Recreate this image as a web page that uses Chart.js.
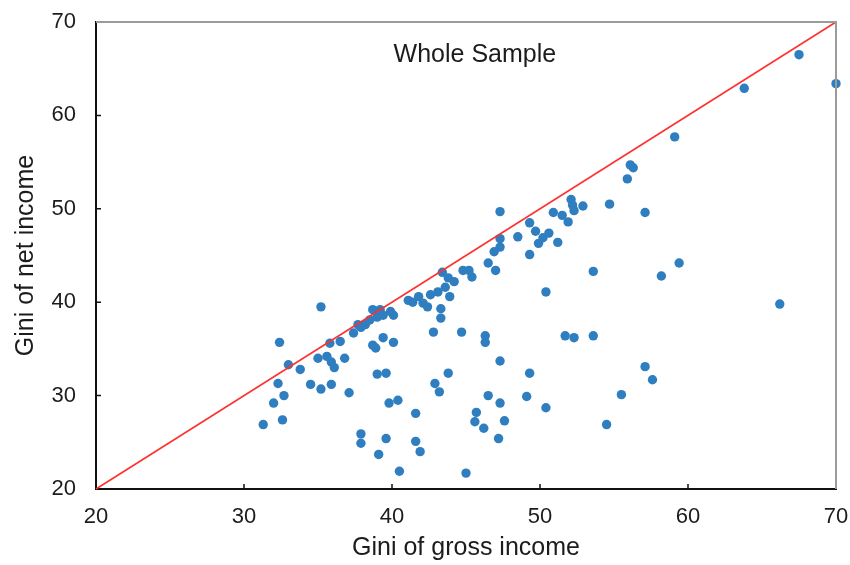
<!DOCTYPE html>
<html>
<head>
<meta charset="utf-8">
<script src="https://cdn.jsdelivr.net/npm/chart.js@4.4.0/dist/chart.umd.min.js"></script>
<style>
  html, body { margin: 0; padding: 0; background: #fff; }
</style>
</head>
<body>
<canvas id="giniChart" width="850" height="565"></canvas>
<script>
// Gini of gross income (x) and Gini of net income (y), one entry per country-year
const grossGini = [
  31.3, 32.6, 32.0, 32.7, 32.3, 32.4, 33.0, 33.8, 34.5, 35.2,
  35.9, 35.0, 35.6, 35.9, 36.1, 36.8, 36.5, 35.8, 37.1, 35.2,
  37.9, 37.9, 39.1, 39.6, 40.5, 41.6, 41.9, 41.6, 39.8, 40.4,
  39.0, 39.6, 38.7, 38.9, 39.4, 40.1, 37.4, 37.7, 37.9, 38.2,
  38.5, 39.0, 39.4, 39.9, 38.7, 39.2, 40.1, 41.1, 41.4, 41.8,
  42.1, 42.4, 42.6, 43.1, 43.6, 43.9, 43.3, 43.3, 42.8, 42.9,
  43.2, 43.8, 43.4, 43.8, 44.2, 44.8, 45.2, 45.4, 44.7, 46.3,
  46.3, 47.3, 45.0, 45.7, 45.6, 46.2, 47.6, 47.2, 46.5, 47.3,
  49.1, 50.4, 49.3, 46.5, 47.0, 46.9, 47.3, 47.3, 47.3, 48.5,
  49.3, 49.7, 49.9, 50.2, 50.6, 51.2, 49.3, 50.4, 50.9, 51.5,
  51.9, 52.1, 52.2, 52.3, 52.9, 51.7, 52.3, 53.6, 53.6, 54.5,
  55.5, 54.7, 55.9, 56.1, 56.3, 57.1, 57.1, 57.6, 58.2, 59.4,
  59.1, 63.8, 66.2, 67.5, 70.0
];
const netGini = [
  26.9, 27.4, 29.2, 30.0, 31.3, 35.7, 33.3, 32.8, 31.2, 30.7,
  31.2, 34.0, 34.2, 33.6, 33.0, 34.0, 35.8, 35.6, 30.3, 39.5,
  25.9, 24.9, 23.7, 25.4, 21.9, 25.1, 24.0, 28.1, 29.2, 29.5,
  32.3, 32.4, 35.4, 35.1, 36.2, 35.7, 36.7, 37.6, 37.3, 37.6,
  38.1, 38.4, 38.6, 39.0, 39.2, 39.2, 38.6, 40.2, 40.0, 40.6,
  39.9, 39.5, 40.8, 41.1, 41.6, 40.6, 39.3, 38.3, 36.8, 31.3,
  30.4, 32.4, 43.2, 42.6, 42.2, 43.4, 43.4, 42.7, 36.8, 36.4,
  35.7, 33.7, 21.7, 28.2, 27.2, 26.5, 27.3, 25.4, 30.0, 29.2,
  29.9, 28.7, 32.4, 44.2, 43.4, 45.4, 45.9, 46.8, 49.7, 47.0,
  48.5, 47.6, 46.3, 46.9, 47.4, 46.4, 45.1, 41.1, 49.6, 49.3,
  48.6, 51.0, 50.4, 49.8, 50.3, 36.4, 36.2, 36.4, 43.3, 26.9,
  30.1, 50.5, 53.2, 54.7, 54.4, 49.6, 33.1, 31.7, 42.8, 44.2,
  57.7, 62.9, 39.8, 66.5, 63.4
];
// 45-degree line (net = gross)
const equalityLine = [20, 70];
const tickValues = [20, 30, 40, 50, 60, 70];

const textColor = '#1c1c1c';
const fontFamily = '"Liberation Sans", Arial, sans-serif';

// frame (grey top/right), inward tick marks and the panel label
const frameAndTicks = {
    id: 'frameAndTicks',
    afterDatasetsDraw(chart) {
        const { ctx, chartArea: a, scales: { x, y } } = chart;
        ctx.save();
        ctx.strokeStyle = '#9b9b9b';
        ctx.lineWidth = 2;
        ctx.beginPath();
        ctx.moveTo(a.left, a.top);
        ctx.lineTo(a.right, a.top);
        ctx.lineTo(a.right, a.bottom);
        ctx.stroke();

        ctx.strokeStyle = '#111';
        ctx.lineWidth = 1.5;
        ctx.beginPath();
        tickValues.slice(1, -1).forEach(v => {
            const px = x.getPixelForValue(v);
            ctx.moveTo(px, a.bottom);
            ctx.lineTo(px, a.bottom - 5);
            const py = y.getPixelForValue(v);
            ctx.moveTo(a.left, py);
            ctx.lineTo(a.left + 5, py);
        });
        ctx.stroke();

        ctx.fillStyle = textColor;
        ctx.font = '25px ' + fontFamily;
        ctx.textAlign = 'center';
        ctx.textBaseline = 'middle';
        ctx.fillText('Whole Sample', a.left + a.width * 0.512, a.top + 33);
        ctx.restore();
    }
};

// drop the label overflow padding so layout.padding alone fixes the plot box
const fixBox = (s, size) => {
    if (s.isHorizontal()) s.height = size; else s.width = size;
    s.paddingTop = 0; s.paddingBottom = 0; s.paddingLeft = 0; s.paddingRight = 0;
};

const points = grossGini.map((g, i) => ({ x: g, y: netGini[i] }));
const linePoints = equalityLine.map(v => ({ x: v, y: v }));

new Chart(document.getElementById('giniChart').getContext('2d'), {
    type: 'scatter',
    data: {
        datasets: [{
            type: 'line',
            data: linePoints,
            borderColor: '#ff3030',
            borderWidth: 1.6,
            pointRadius: 0,
            fill: false,
            clip: false
        }, {
            data: points,
            backgroundColor: '#2f7ec0',
            borderColor: '#2f7ec0',
            borderWidth: 0,
            pointRadius: 4.7,
            clip: false
        }]
    },
    options: {
        responsive: false,
        animation: false,
        devicePixelRatio: 1,
        layout: { padding: { top: 22, right: 14, left: 0, bottom: 0 } },
        plugins: {
            legend: { display: false },
            tooltip: { enabled: false }
        },
        scales: {
            x: {
                type: 'linear',
                min: 20,
                max: 70,
                afterFit: s => fixBox(s, 76),
                afterBuildTicks: s => { s.ticks = tickValues.map(v => ({ value: v })); },
                ticks: { color: textColor, font: { family: fontFamily, size: 22 }, padding: 15 },
                grid: { display: false, drawTicks: false },
                border: { display: true, color: '#111', width: 2 },
                title: {
                    display: true,
                    text: 'Gini of gross income',
                    color: textColor,
                    font: { family: fontFamily, size: 25 },
                    padding: { top: 0, bottom: 2 }
                }
            },
            y: {
                type: 'linear',
                min: 20,
                max: 70,
                afterFit: s => fixBox(s, 96),
                afterBuildTicks: s => { s.ticks = tickValues.map(v => ({ value: v })); },
                ticks: { color: textColor, font: { family: fontFamily, size: 22 }, padding: 20 },
                grid: { display: false, drawTicks: false },
                border: { display: true, color: '#111', width: 2 },
                title: {
                    display: true,
                    text: 'Gini of net income',
                    color: textColor,
                    font: { family: fontFamily, size: 25 },
                    padding: { top: 11, bottom: 0 }
                }
            }
        }
    },
    plugins: [frameAndTicks]
});
</script>
</body>
</html>
